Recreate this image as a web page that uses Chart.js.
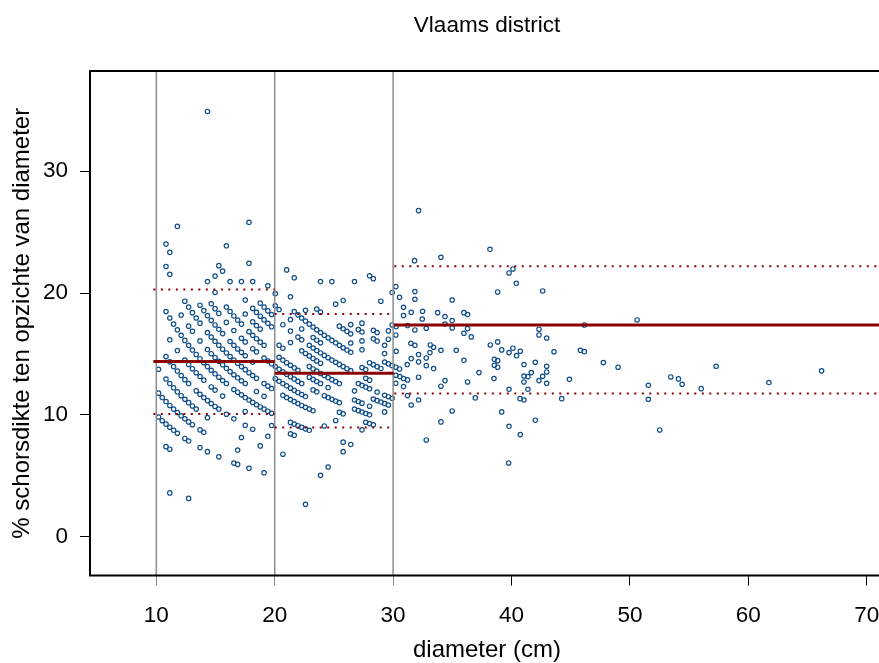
<!DOCTYPE html>
<html>
<head>
<meta charset="utf-8">
<title>Vlaams district</title>
<script src="https://cdn.jsdelivr.net/npm/chart.js@4.4.1/dist/chart.umd.min.js"></script>
<style>
  html, body { margin: 0; padding: 0; overflow: hidden; background: #fff; }
  canvas { display: block; }
</style>
</head>
<body>
<canvas id="schors" width="900" height="663"></canvas>
<script>
// [diameter (cm), schorsdikte (% van diameter)] per diameterklasse
const klasse10_20 = [
  [11.14,3.59],[12.73,3.14],
  [10.82,7.39],[11.14,7.18],
  [10.19,9.82],[10.50,9.52],[10.82,9.24],[11.14,8.98],[11.46,8.73],[11.78,8.49],[12.41,8.06],[12.73,7.85],
  [13.69,7.31],[14.32,6.98],[15.28,6.55],[16.55,6.04],[16.87,5.93],[17.83,5.61],[19.10,5.24],
  [10.19,11.78],[10.50,11.42],[10.82,11.09],[11.14,10.77],[11.46,10.47],[11.78,10.19],[12.10,9.92],
  [12.41,9.67],[12.73,9.42],[13.05,9.19],[13.69,8.77],[14.01,8.57],[16.87,7.11],
  [10.19,13.74],[10.82,12.94],[11.14,12.57],[11.46,12.22],[11.78,11.89],[12.10,11.57],[12.41,11.28],
  [12.73,11.00],[13.05,10.73],[13.37,10.47],[14.32,9.77],[17.19,8.14],[18.78,7.45],
  [10.82,14.78],[11.14,14.36],[11.46,13.96],[11.78,13.59],[12.10,13.23],[12.41,12.89],[12.73,12.57],
  [13.37,11.97],[13.69,11.69],[14.01,11.42],[14.32,11.17],[14.64,10.93],[14.96,10.69],[15.28,10.47],
  [15.92,10.05],[16.55,9.67],[17.51,9.14],[18.14,8.82],[19.42,8.24],
  [11.14,16.16],[11.78,15.28],[12.41,14.50],[12.73,14.14],[13.05,13.79],[13.37,13.46],[13.69,13.15],
  [14.01,12.85],[14.64,12.29],[14.96,12.03],[15.60,11.54],[17.51,10.28],[19.74,9.12],
  [10.82,18.48],[11.14,17.95],[11.46,17.45],[11.78,16.98],[12.10,16.53],[12.41,16.11],[12.73,15.71],
  [13.05,15.32],[13.37,14.96],[13.69,14.61],[14.01,14.28],[14.32,13.96],[14.64,13.66],[14.96,13.37],
  [15.28,13.09],[15.60,12.82],[15.92,12.57],[16.55,12.08],[16.87,11.86],[17.19,11.64],[17.51,11.42],
  [17.83,11.22],[18.14,11.02],[18.46,10.83],[18.78,10.65],[19.10,10.47],[19.42,10.30],[19.74,10.13],
  [12.10,18.19],[12.73,17.28],[13.05,16.86],[13.69,16.07],[14.32,15.36],[14.64,15.02],[14.96,14.71],
  [15.28,14.40],[15.60,14.11],[15.92,13.82],[16.23,13.55],[16.55,13.29],[16.87,13.04],[17.19,12.80],
  [17.51,12.57],[18.46,11.92],[19.10,11.52],
  [10.82,22.18],[11.14,21.54],[12.41,19.33],[12.73,18.85],[13.05,18.39],[13.37,17.95],[13.69,17.53],
  [14.32,16.76],[14.64,16.39],[14.96,16.04],[15.28,15.71],[15.60,15.39],[15.92,15.08],[16.23,14.78],
  [16.55,14.50],[16.87,14.23],[17.19,13.96],[17.51,13.71],[17.83,13.46],[18.14,13.23],[18.46,13.00],
  [19.10,12.57],[19.42,12.36],[19.74,12.16],
  [10.82,24.02],[11.14,23.34],[13.69,19.00],[14.01,18.56],[14.32,18.15],[14.64,17.76],[14.96,17.38],
  [15.28,17.02],[15.60,16.67],[16.23,16.02],[16.55,15.71],[16.87,15.41],[17.19,15.13],[17.51,14.85],
  [18.14,14.33],
  [14.64,19.12],[14.96,18.72],[15.28,18.33],[15.92,17.59],[16.55,16.92],[17.19,16.29],[17.51,15.99],
  [18.14,15.43],[18.46,15.17],[19.10,14.66],[19.42,14.42],[19.74,14.19],
  [11.78,25.47],[14.32,20.94],[14.96,20.05],[15.92,18.85],[16.23,18.48],[16.55,18.12],[16.87,17.78],
  [17.19,17.45],[17.83,16.83],[18.14,16.53],[18.46,16.25],[18.78,15.97],[19.10,15.71],
  [14.96,21.39],[17.51,18.28],[18.14,17.64],[18.46,17.33],[18.78,17.04],
  [15.28,22.25],[15.60,21.80],[16.23,20.94],[17.51,19.42],[18.14,18.74],[18.46,18.42],[18.78,18.10],
  [19.10,17.80],[19.42,17.51],[19.74,17.23],
  [17.19,20.94],[18.78,19.17],[19.10,18.85],[19.42,18.54],[19.74,18.24],
  [15.92,23.88],[18.14,20.94],[17.83,22.44],[19.42,20.60],[17.83,25.81],[14.32,34.91]
];

const klasse20_30 = [
  [22.60,2.65],[23.87,5.03],[20.69,6.77],[24.51,5.71],
  [21.33,8.44],[21.65,8.32],[25.78,6.98],
  [21.33,9.38],[21.65,9.24],[21.96,9.11],[22.28,8.98],[22.60,8.85],[22.92,8.73],[25.78,7.76],[26.42,7.57],
  [24.19,9.09],
  [20.69,11.60],[21.01,11.42],[21.33,11.25],[21.65,11.09],[21.96,10.93],[22.28,10.77],[22.60,10.62],
  [22.92,10.47],[23.24,10.33],[25.15,9.54],[27.37,8.77],
  [20.05,12.97],[20.37,12.76],[20.69,12.57],[21.01,12.38],[21.33,12.19],[21.65,12.01],[21.96,11.84],
  [22.28,11.67],[22.60,11.50],[25.46,10.21],[25.78,10.08],[27.69,9.39],[28.01,9.28],[28.33,9.18],
  [20.05,13.96],[20.37,13.74],[20.69,13.53],[21.01,13.33],[21.33,13.13],[21.65,12.94],[21.96,12.75],
  [22.28,12.57],[23.24,12.05],[23.55,11.89],[24.19,11.57],[24.51,11.42],[24.83,11.28],[25.15,11.13],
  [25.46,11.00],[26.74,10.47],[27.06,10.35],[27.37,10.23],[27.69,10.11],[28.01,10.00],
  [20.37,14.73],[20.69,14.50],[21.01,14.28],[21.33,14.07],[21.65,13.86],[21.96,13.66],[22.92,13.09],
  [23.24,12.91],[23.55,12.74],[23.87,12.57],[24.51,12.24],[26.74,11.22],[27.06,11.09],[27.37,10.96],
  [28.01,10.71],[29.28,10.24],
  [20.37,15.71],[20.69,15.47],[22.92,13.96],[23.24,13.77],[23.55,13.59],[23.87,13.40],[24.19,13.23],
  [24.51,13.06],[24.83,12.89],[25.15,12.73],[25.46,12.57],[26.74,11.97],[28.33,11.30],[28.65,11.17],
  [28.97,11.05],[29.28,10.93],[29.60,10.81],
  [21.33,15.94],[22.28,15.26],[22.60,15.04],[22.92,14.84],[23.24,14.63],[23.55,14.43],[23.87,14.24],
  [27.06,12.57],[27.37,12.42],[27.69,12.28],[28.01,12.14],[28.65,11.87],[29.28,11.61],[29.60,11.49],
  [29.92,11.36],
  [20.69,17.40],[21.33,16.88],[21.96,16.39],[22.28,16.16],[22.92,15.71],[23.24,15.49],[23.55,15.28],
  [23.87,15.08],[24.19,14.88],[24.51,14.69],[24.83,14.50],[25.15,14.32],[25.46,14.14],[25.78,13.96],
  [26.10,13.79],[26.42,13.63],[27.69,13.00],[28.01,12.85],
  [20.05,18.95],[20.37,18.65],[21.33,17.82],[22.28,17.05],[23.24,16.35],[23.55,16.13],[23.87,15.92],
  [27.37,13.88],[27.69,13.72],
  [20.05,19.95],[21.65,18.48],[21.96,18.21],[22.28,17.95],[22.60,17.70],[22.92,17.45],[23.24,17.21],
  [23.55,16.98],[23.87,16.76],[24.19,16.53],[24.51,16.32],[24.83,16.11],[25.15,15.91],[25.46,15.71],
  [25.78,15.51],[26.10,15.32],[26.42,15.14],[28.01,14.28],[28.33,14.12],[28.65,13.96],[28.97,13.81],
  [21.33,19.69],[22.60,18.58],[26.42,15.90],[27.37,15.34],[29.28,14.34],[29.60,14.19],[29.92,14.04],
  [23.55,18.68],[23.87,18.43],[25.46,17.28],[25.78,17.07],[26.10,16.86],[26.42,16.65],[27.37,16.07],
  [29.28,15.03],
  [21.01,21.90],[21.65,21.25],[26.42,17.41],[27.06,17.00],[27.37,16.80],[28.33,16.24],[28.65,16.06],
  [29.28,15.71],
  [25.15,19.09],[27.37,17.53],[28.33,16.94],[28.65,16.76],[29.60,16.21],
  [23.87,20.94],[25.78,19.39],[29.60,16.89],[24.83,20.94],[29.92,17.38],
  [26.74,20.94],[28.97,19.33],[28.01,21.42],[28.33,21.18],[29.92,20.05]
];

const klasse30plus = [
  [32.15,26.77],[38.18,23.59],[34.04,22.94],[31.81,22.66],[39.79,21.65],[40.12,21.98],[40.41,20.80],
  [38.83,20.09],[42.63,20.17],[30.23,20.53],[31.84,20.12],[31.84,19.49],[30.54,19.65],[34.99,19.43],
  [30.88,18.83],[30.88,18.15],[31.53,18.42],[32.49,18.50],[32.46,17.87],[33.76,18.39],[34.38,18.07],
  [34.99,17.74],[35.98,18.39],[36.29,18.23],[34.38,17.46],[34.99,17.14],[36.29,17.08],[35.98,16.70],
  [36.60,16.40],[32.80,17.11],[31.84,16.97],[31.22,17.33],[30.26,17.25],[30.23,16.56],[30.26,15.22],
  [31.50,15.88],[31.84,15.71],[32.15,14.95],[33.14,15.74],[33.42,15.55],[33.11,15.11],[34.04,15.30],
  [32.80,14.67],[32.80,14.04],[32.15,14.35],[31.53,14.62],[31.19,14.13],[30.54,13.77],[30.23,13.91],
  [30.23,13.25],[30.57,13.14],[30.88,12.98],[31.22,12.87],[30.23,12.59],[30.88,12.32],[32.15,13.09],
  [33.42,13.80],[31.22,11.58],[31.53,10.81],[32.15,11.22],[34.04,12.35],[34.38,12.81],[35.33,15.30],
  [35.98,14.48],[36.29,12.70],[36.94,11.39],[37.25,13.47],[38.21,15.74],[38.83,15.99],[38.55,14.56],
  [38.83,14.45],[38.55,14.07],[38.83,13.91],[38.52,12.98],[39.17,15.33],[39.79,15.11],[40.12,15.47],
  [40.43,14.86],[40.74,15.22],[39.79,12.10],[41.05,14.13],[42.01,14.32],[41.67,13.47],[41.39,13.14],
  [41.05,13.19],[41.05,12.70],[41.39,12.10],[42.32,12.81],[42.63,13.17],[42.97,13.52],[42.97,13.99],
  [42.97,12.59],[42.32,17.03],[42.32,16.56],[42.97,16.31],[43.59,15.17],[44.89,12.92],[44.24,11.33],
  [40.72,11.33],[41.05,11.22],[39.17,10.24],[39.79,9.06],[40.74,8.38],[42.01,9.56],[34.99,10.32],
  [34.04,9.42],[32.80,7.94],[45.82,15.30],[46.15,15.19],[46.15,17.38],[47.76,14.29],[49.00,13.91],
  [50.61,17.79],[51.56,12.43],[51.56,11.28],[52.52,8.76],[53.45,13.11],[54.10,12.95],[54.41,12.51],
  [56.02,12.15],[57.28,13.99],[61.74,12.65],[66.19,13.61],[39.76,6.05]
];

// klassegrenzen en gemiddelde / grenzen per klasse
const klasseGrenzen = [10, 20, 30];
const lijnStart = [9.75, 20, 30.1];
const lijnEinde = [20, 30.05, 72];
const gemiddelde = [14.37, 13.42, 17.38];
const bovengrens = [20.30, 18.28, 22.20];
const ondergrens = [10.06, 8.96, 11.75];

const xTicks = [10, 20, 30, 40, 50, 60, 70];
const yTicks = [0, 10, 20, 30];
const xMin = 4.4, xMax = 71.46;
const yMin = -3.19, yMax = 38.23;

const puntKleur = '#104E8B';
const rood = '#8B0000';
const grijs = '#8c8c8c';

Chart.defaults.font.family = "'Liberation Sans', Arial, sans-serif";
Chart.defaults.color = '#000';

let datasets = [];

datasets.push({
  data: [...klasse10_20, ...klasse20_30, ...klasse30plus].map(([d, p]) => ({x: d, y: p})),
  pointRadius: 2.2,
  pointBorderWidth: 1.2,
  pointBorderColor: puntKleur,
  pointBackgroundColor: 'rgba(0,0,0,0)',
  order: 3
});

klasseGrenzen.forEach(g => {
  datasets.push({
    data: [{x: g, y: yMin}, {x: g, y: yMax}],
    showLine: true, borderColor: grijs, borderWidth: 1.5, pointRadius: 0, order: 2
  });
});

for (let i = 0; i < gemiddelde.length; i++) {
  datasets.push({
    data: [{x: lijnStart[i], y: gemiddelde[i]}, {x: lijnEinde[i], y: gemiddelde[i]}],
    showLine: true, borderColor: rood, borderWidth: 3, pointRadius: 0, order: 1
  });
  [bovengrens[i], ondergrens[i]].forEach(v => {
    datasets.push({
      data: [{x: lijnStart[i], y: v}, {x: lijnEinde[i], y: v}],
      showLine: true, borderColor: rood, borderWidth: 2, borderDash: [2, 5.5],
      borderCapStyle: 'butt', pointRadius: 0, order: 1
    });
  });
}

// kader rond het plotgebied
const kader = {
  id: 'kader',
  afterDatasetsDraw(chart) {
    const {ctx, chartArea: a} = chart;
    ctx.save();
    ctx.strokeStyle = '#000';
    ctx.lineWidth = 2;
    ctx.strokeRect(a.left, a.top, a.right - a.left, a.bottom - a.top);
    ctx.restore();
  }
};

new Chart(document.getElementById('schors'), {
  type: 'scatter',
  data: {datasets: datasets},
  plugins: [kader],
  options: {
    responsive: false,
    animation: false,
    devicePixelRatio: 1,
    layout: {padding: {left: 0, right: 16, top: 0, bottom: 0}},
    plugins: {
      legend: {display: false},
      tooltip: {enabled: false},
      title: {
        display: true,
        fullSize: false,
        text: 'Vlaams district',
        font: {size: 22.5, weight: 'normal'},
        padding: {top: 12, bottom: 32}
      }
    },
    scales: {
      x: {
        type: 'linear',
        min: xMin,
        max: xMax,
        afterBuildTicks: s => { s.ticks = xTicks.map(v => ({value: v})); },
        afterFit: s => { s.height = 87.5; },
        border: {display: false},
        grid: {
          drawOnChartArea: false,
          tickLength: 10,
          lineWidth: 1,
          color: c => (c.tick && klasseGrenzen.includes(c.tick.value)) ? grijs : '#000'
        },
        ticks: {font: {size: 22.5}, padding: 17, maxRotation: 0, autoSkip: false},
        title: {display: true, text: 'diameter (cm)', font: {size: 24}, padding: {top: 0, bottom: -2}}
      },
      y: {
        type: 'linear',
        min: yMin,
        max: yMax,
        afterBuildTicks: s => { s.ticks = yTicks.map(v => ({value: v})); },
        afterFit: s => { s.width = 90; },
        border: {display: false},
        grid: {drawOnChartArea: false, tickLength: 10, lineWidth: 1, color: '#000'},
        ticks: {font: {size: 22.5}, padding: 12},
        title: {
          display: true,
          text: '% schorsdikte ten opzichte van diameter',
          font: {size: 24},
          padding: {top: 8, bottom: 0}
        }
      }
    }
  }
});
</script>
</body>
</html>
